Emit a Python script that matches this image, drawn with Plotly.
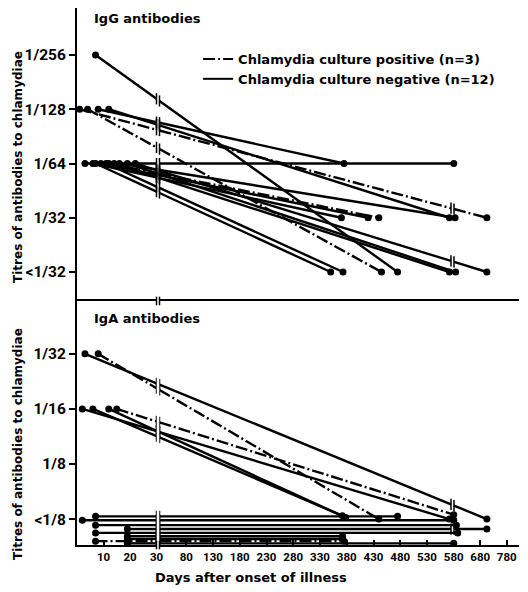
import plotly.graph_objects as go

# ---------------- data ----------------
IGG_LEVELS = ["<1/32", "1/32", "1/64", "1/128", "1/256"]
IGA_LEVELS = ["<1/8", "1/8", "1/16", "1/32"]
DAY_TICKS = [10, 20, 30, 80, 130, 180, 230, 280, 330, 380, 430, 480, 530, 580, 680, 780]

igg_culture = ["positive"] * 3 + ["negative"] * 12
igg_days = [[1, 705], [4, 445], [12, 440],
            [7, 475], [8, 375], [12, 572], [3, 580], [6, 370], [9, 420],
            [16, 585], [7, 350], [11, 373], [14, 572], [19, 587], [22, 705]]
igg_titres = [["1/128", "1/32"], ["1/128", "<1/32"], ["1/64", "1/32"],
              ["1/256", "<1/32"], ["1/128", "1/64"], ["1/128", "1/32"],
              ["1/64", "1/64"], ["1/64", "1/32"], ["1/64", "1/32"],
              ["1/64", "1/32"], ["1/64", "<1/32"], ["1/64", "<1/32"],
              ["1/64", "<1/32"], ["1/64", "<1/32"], ["1/64", "<1/32"]]

iga_culture = ["positive"] * 3 + ["negative"] * 12
iga_days = [[8, 440], [15, 580], [7, 375],
            [3, 705], [2, 572], [6, 372], [12, 378],
            [2, 580], [7, 475], [7, 590], [19, 705], [7, 595],
            [19, 372], [19, 372], [19, 580]]
iga_titres = [["1/32", "<1/8"], ["1/16", "<1/8"], ["<1/8", "<1/8"],
              ["1/32", "<1/8"], ["1/16", "<1/8"], ["1/16", "<1/8"], ["1/16", "<1/8"],
              ["<1/8", "<1/8"], ["<1/8", "<1/8"], ["<1/8", "<1/8"], ["<1/8", "<1/8"],
              ["<1/8", "<1/8"], ["<1/8", "<1/8"], ["<1/8", "<1/8"], ["<1/8", "<1/8"]]
# vertical stacking of overlapping "<1/8" rows (fraction of one titre step)
iga_low_stack = [0.0, 0.08, -0.40,
                 0.0, 0.0, 0.06, 0.03,
                 -0.02, 0.05, -0.11, -0.18, -0.25,
                 -0.31, -0.36, -0.44]

LEGEND_NAMES = {"positive": "Chlamydia culture positive (n=3)",
                "negative": "Chlamydia culture negative (n=12)"}

# ---------------- broken day axis ----------------
def fx(d):
    if d <= 30:
        return 2.65 * d
    if d <= 580:
        return 82.5 + 0.535 * (d - 30)
    return 376.75 + 0.265 * (d - 580)

GAPS = [(79.5, 82.5, 0.0), (374.0, 377.0, 383.0)]
DASH = {"positive": "12px,3px,2px,3px", "negative": "solid"}
FONT = "DejaVu Sans"
TICKFONT = "Roboto"
LW = 2.4


def broken_path(xs, ys):
    px, py, tx, ty = [xs[0]], [ys[0]], [], []
    for i in range(1, len(xs)):
        x0, y0, x1, y1 = xs[i - 1], ys[i - 1], xs[i], ys[i]
        for ga, gb, need in GAPS:
            if x0 < ga and x1 > max(gb, need):
                ya = y0 + (y1 - y0) * (ga - x0) / (x1 - x0)
                yb = y0 + (y1 - y0) * (gb - x0) / (x1 - x0)
                px += [ga, None, gb]
                py += [ya, None, yb]
                tx += [ga, gb]
                ty += [ya, yb]
        px.append(x1)
        py.append(y1)
    return px, py, tx, ty


fig = go.Figure()


def add_panel(days, titres, culture, levels, stack, xa, ya):
    mx, my, bx, by = [], [], [], []
    for k in range(len(days)):
        xs = [fx(d) for d in days[k]]
        ys = []
        for t in titres[k]:
            lv = levels.index(t)
            ys.append(lv + (stack[k] if (stack is not None and lv == 0) else 0.0))
        px, py, tx, ty = broken_path(xs, ys)
        fig.add_trace(go.Scatter(x=px, y=py, mode="lines", xaxis=xa, yaxis=ya,
                                 line=dict(color="black", width=LW, dash=DASH[culture[k]]),
                                 showlegend=False, hoverinfo="skip"))
        mx += xs
        my += ys
        bx += tx
        by += ty
    fig.add_trace(go.Scatter(x=mx, y=my, mode="markers", xaxis=xa, yaxis=ya,
                             marker=dict(color="black", size=7),
                             showlegend=False, hoverinfo="skip"))
    fig.add_trace(go.Scatter(x=bx, y=by, mode="markers", xaxis=xa, yaxis=ya,
                             marker=dict(symbol="line-ns", size=8,
                                         line=dict(color="black", width=1.5)),
                             showlegend=False, hoverinfo="skip"))


add_panel(igg_days, igg_titres, igg_culture, IGG_LEVELS, None, "x2", "y2")
add_panel(iga_days, iga_titres, iga_culture, IGA_LEVELS, iga_low_stack, "x", "y")

for grp in ["positive", "negative"]:
    fig.add_trace(go.Scatter(x=[None], y=[None], mode="lines", xaxis="x2", yaxis="y2",
                             name=LEGEND_NAMES[grp],
                             line=dict(color="black", width=2, dash=DASH[grp])))

tickvals = [fx(d) for d in DAY_TICKS]
ticktext = [str(d) for d in DAY_TICKS]

BOT_TOP = 0.4544
TOP_BOT = 0.4562

fig.update_layout(
    width=520, height=584,
    margin=dict(l=69, r=9, t=0, b=47),
    paper_bgcolor="white", plot_bgcolor="white",
    font=dict(family=FONT, color="black", size=13, weight="bold"),
    xaxis=dict(domain=[0, 1], range=[0, 442], anchor="y", tickvals=tickvals,
               ticktext=ticktext, ticks="inside", ticklen=5, tickwidth=1.5,
               tickcolor="black", showline=True, linewidth=2, linecolor="black",
               mirror=True, showgrid=False, zeroline=False,
               tickfont=dict(size=11.5, family=TICKFONT, weight="bold")),
    xaxis2=dict(domain=[0, 1], range=[0, 442], anchor="y2", visible=False),
    yaxis=dict(domain=[0, BOT_TOP], range=[-0.47, 3.96], anchor="x",
               tickvals=list(range(len(IGA_LEVELS))), ticktext=IGA_LEVELS,
               ticks="outside", ticklen=6, tickwidth=2, tickcolor="black",
               showline=True, linewidth=2, linecolor="black",
               showgrid=False, zeroline=False,
               tickfont=dict(size=15.5, family=TICKFONT, weight="bold")),
    yaxis2=dict(domain=[TOP_BOT, 1], range=[-0.516, 4.866], anchor="x2",
                tickvals=list(range(len(IGG_LEVELS))), ticktext=IGG_LEVELS,
                ticks="outside", ticklen=6, tickwidth=2, tickcolor="black",
                showline=True, linewidth=2, linecolor="black",
                showgrid=False, zeroline=False,
                tickfont=dict(size=15.5, family=TICKFONT, weight="bold")),
    legend=dict(x=0.274, y=0.933, xanchor="left", yanchor="top",
                bgcolor="rgba(0,0,0,0)", font=dict(size=13, family=FONT, weight="bold"),
                itemwidth=30, tracegroupgap=0),
    showlegend=True,
)

# axis break on the day axis (bottom line and top border of lower panel)
fig.add_shape(type="rect", xref="x", yref="paper", x0=79.7, x1=82.3, y0=-0.006,
              y1=TOP_BOT + 0.01, fillcolor="white", line=dict(width=0), layer="above")
for xb in [79.5, 82.5]:
    for yc in [0.0, BOT_TOP]:
        fig.add_shape(type="line", xref="x", yref="paper", x0=xb, x1=xb,
                      y0=yc - 0.008, y1=yc + 0.008, line=dict(color="black", width=1.5),
                      layer="above")

annots = [
    dict(text="IgG antibodies", x=0.034, y=0.981, xanchor="left", yanchor="middle", size=13),
    dict(text="IgA antibodies", x=0.034, y=0.4227, xanchor="left", yanchor="middle", size=13),
    dict(text="Titres of antibodies to chlamydiae", x=-0.1335, y=0.704, textangle=-90,
         xanchor="center", yanchor="middle", size=12),
    dict(text="Titres of antibodies to chlamydiae", x=-0.1335, y=0.188, textangle=-90,
         xanchor="center", yanchor="middle", size=12),
    dict(text="Days after onset of illness", x=0.394, y=-0.0596, xanchor="center",
         yanchor="middle", size=13),
]
for a in annots:
    sz = a.pop("size")
    fig.add_annotation(xref="paper", yref="paper", showarrow=False,
                       font=dict(size=sz, family=FONT, weight="bold", color="black"), **a)

fig.write_html("out.html")
